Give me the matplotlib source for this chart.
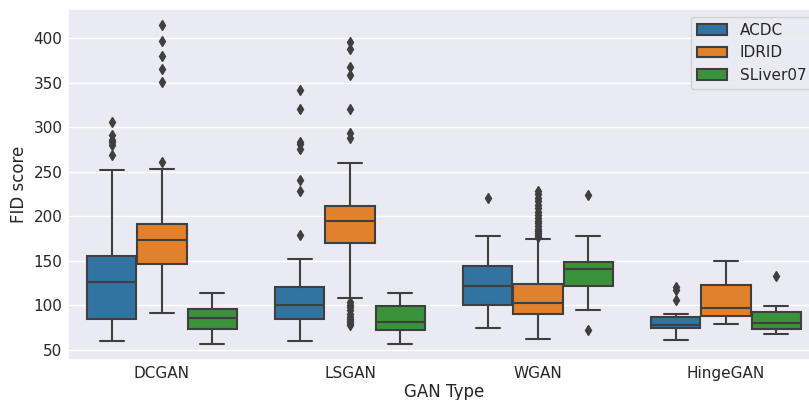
import matplotlib
matplotlib.use('Agg')
import matplotlib.pyplot as plt
import matplotlib.patches as mpatches
import seaborn as sns

sns.set_theme(style='darkgrid')
plt.rcParams['font.family'] = ['DejaVu Sans']

gan_types = ['DCGAN', 'LSGAN', 'WGAN', 'HingeGAN']
datasets = ['ACDC', 'IDRID', 'SLiver07']
colors = ['#3274a1', '#e1812c', '#3a923a']

# box stats per dataset, one value per GAN type
whislo = {'ACDC': [60.4, 60.1, 74.7, 61.6],
          'IDRID': [91.5, 108.7, 62.3, 78.8],
          'SLiver07': [56.7, 57.0, 94.5, 68.0]}
q1 = {'ACDC': [84.8, 85.1, 100.8, 75.0],
      'IDRID': [146.5, 170.0, 90.4, 87.8],
      'SLiver07': [73.9, 72.8, 122.1, 73.2]}
med = {'ACDC': [126.6, 100.8, 121.8, 77.7],
       'IDRID': [173.4, 195.0, 103.1, 96.7],
       'SLiver07': [86.2, 81.0, 141.2, 80.3]}
q3 = {'ACDC': [155.8, 120.7, 144.6, 87.0],
      'IDRID': [191.0, 211.2, 124.0, 123.3],
      'SLiver07': [95.6, 99.7, 149.0, 92.3]}
whishi = {'ACDC': [252.3, 152.5, 178.2, 90.4],
          'IDRID': [253.0, 259.4, 175.0, 149.5],
          'SLiver07': [113.6, 114.3, 178.2, 99.0]}
fliers = {'ACDC': [[306, 291, 286, 283, 280, 269],
                   [342, 320, 283, 281, 276, 241, 228, 179],
                   [221],
                   [121, 117, 106]],
          'IDRID': [[415, 397, 380, 365, 351, 261],
                    [396, 388, 367, 359, 320, 293, 288,
                     104, 101, 98, 95, 90, 87, 85, 83, 80, 78],
                    [228, 225, 221, 217, 213, 209, 205, 201, 198, 195,
                     192, 189, 186, 183, 181, 179, 177],
                    []],
          'SLiver07': [[], [], [224, 73], [133]]}

fig = plt.figure(figsize=(8.09, 4.0), dpi=100)
ax = fig.add_axes([0.084, 0.1, 0.9296, 0.8775])

gray = '#3f3f3f'
w = 0.8 / 3
for j, ds in enumerate(datasets):
    stats = []
    for i in range(len(gan_types)):
        stats.append({'med': med[ds][i], 'q1': q1[ds][i], 'q3': q3[ds][i],
                      'whislo': whislo[ds][i], 'whishi': whishi[ds][i],
                      'fliers': fliers[ds][i]})
    pos = [i + (j - 1) * w for i in range(len(gan_types))]
    ax.bxp(stats, positions=pos, widths=w * 0.98, patch_artist=True,
           manage_ticks=False,
           boxprops=dict(facecolor=colors[j], edgecolor=gray, linewidth=1.5),
           medianprops=dict(color=gray, linewidth=1.5),
           whiskerprops=dict(color=gray, linewidth=1.5),
           capprops=dict(color=gray, linewidth=1.5),
           flierprops=dict(marker='d', markerfacecolor=gray, markeredgecolor=gray,
                           markersize=5))

ax.set_xlim(-0.5, 3.5)
ax.set_ylim(38.8, 432.5)
ax.set_xticks(range(len(gan_types)))
ax.set_xticklabels(gan_types)
ax.set_yticks([50, 100, 150, 200, 250, 300, 350, 400])
ax.xaxis.grid(False)
ax.tick_params(axis='both', length=0, pad=4)
ax.set_xlabel('GAN Type', labelpad=2)
ax.set_ylabel('FID score', labelpad=4)

handles = [mpatches.Patch(facecolor=colors[k], edgecolor=gray, linewidth=1.5, label=ds)
           for k, ds in enumerate(datasets)]
ax.legend(handles=handles, loc='upper right')

plt.savefig('out.png', dpi=100)
